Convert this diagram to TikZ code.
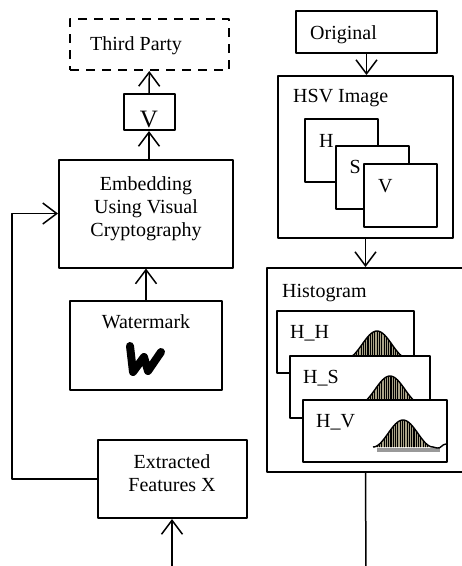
\documentclass[tikz,border=0pt]{standalone}
\usepackage{fontspec}
\setmainfont{Liberation Serif}
\usetikzlibrary{arrows.meta,patterns.meta,positioning}
\tikzset{
	blk/.style={draw, line width=2pt, fill=white, inner sep=0pt},
	lbl/.style={inner sep=0pt},
	flow/.style={line width=1.5pt, -{Straight Barb[length=14pt,width=21pt]}},
	bellfill/.style={fill={rgb,255:red,170;green,164;blue,136}, postaction={pattern={Lines[angle=90,distance=2.3pt,line width=1.1pt]}}},
}
\begin{document}
\begin{tikzpicture}[x=1pt, y=-1pt, line join=round, font=\fontsize{20}{23}\selectfont]
	\useasboundingbox (0,0) rectangle (462,566);
	\clip (0,0) rectangle (462,566);
	% left column
	\node[blk, dashed, dash pattern=on 9pt off 7pt, minimum width=159pt, minimum height=51pt] (third) at (149.5,44.5) {};
	\node[lbl, anchor=base west] (thirdtxt) at (90,50) {Third Party};
	\node[blk, minimum width=51pt, minimum height=36pt] (vbox) at (149,112) {};
	\node[lbl, font=\fontsize{25}{27}\selectfont, anchor=base] (vtxt) at (149,127) {V};
	\node[blk, minimum width=174pt, minimum height=108pt] (embed) at (146,213.5) {};
	\node[lbl, align=center, anchor=base] (embedtxt) at (146,236) {Embedding\\Using Visual\\Cryptography};
	\node[blk, minimum width=152pt, minimum height=89pt] (water) at (146,345.5) {};
	\node[lbl, anchor=base] (watertxt) at (146,328) {Watermark};
	\draw[line width=8pt, line cap=round] (130,346) -- (133,372) -- (144,357) -- (148,371) -- (161,352);
	\node[blk, minimum width=149pt, minimum height=78pt] (extr) at (172,479) {};
	\node[lbl, align=center, anchor=base] (extrtxt) at (172,491) {Extracted\\Features X};
	\coordinate (fb) at (12,213.5);
	\coordinate (inX) at (172,570);
	\draw[flow] (vbox) -- (third);
	\draw[flow] (vbox |- embed.north) -- (vbox);
	\draw[flow] (water) -- (embed);
	\draw[flow] (extr.west) -| (fb) -- (embed.west);
	\draw[flow] (inX) -- (extr);
	% right column
	\node[blk, minimum width=141pt, minimum height=42pt] (orig) at (366.5,32) {};
	\node[lbl, anchor=base west] (origtxt) at (310,39) {Original};
	\node[blk, minimum width=175pt, minimum height=162pt] (hsv) at (365.5,157) {};
	\node[lbl, anchor=base west] (hsvtxt) at (293,102) {HSV Image};
	\foreach \c/\px/\py in {H/304/118, S/334.5/144.5, V/363/163}{
		\node[blk, anchor=north west, minimum width=73pt, minimum height=63pt] (sq\c) at (\px,\py) {};
		\node[lbl, anchor=base west] (lab\c) at ([shift={(15,29)}]sq\c.north west) {\c};
	}
	\node[blk, minimum width=208pt, minimum height=204pt] (hist) at (371,370) {};
	\node[lbl, anchor=base west] (histtxt) at (282,297) {Histogram};
	\foreach \c/\px/\py/\pw in {H/276/310/137, S/289/355/140, V/302/399/144}{
		\node[blk, anchor=north west, minimum width=\pw pt, minimum height=62pt] (pan\c) at (\px,\py) {};
		\node[lbl, anchor=base west] (pantxt\c) at ([shift={(14,28)}]pan\c.north west) {H\_\c};
		\fill[bellfill] plot[domain=-30:30, samples=41] ({\px+101+\x},{\py+48-13.5*(1+cos(6*\x))}) -- cycle;
		\draw[line width=1.4pt] plot[domain=-30:30, samples=41] ({\px+101+\x},{\py+48-13.5*(1+cos(6*\x))});
	}
	\fill[gray!80] (377,448) rectangle (440,452);
	\draw[line width=1.4pt] (433,447) -- (437,448) .. controls (441,449) and (442,444) .. (446,444);
	\coordinate (outH) at (366,570);
	\draw[flow] (orig.south) -- (orig.south |- hsv.north);
	\draw[flow] (hsv.south) -- (hsv.south |- hist.north);
	\draw[line width=1.5pt] (hsv.south |- hist.south) -- (outH);
\end{tikzpicture}
\end{document}
